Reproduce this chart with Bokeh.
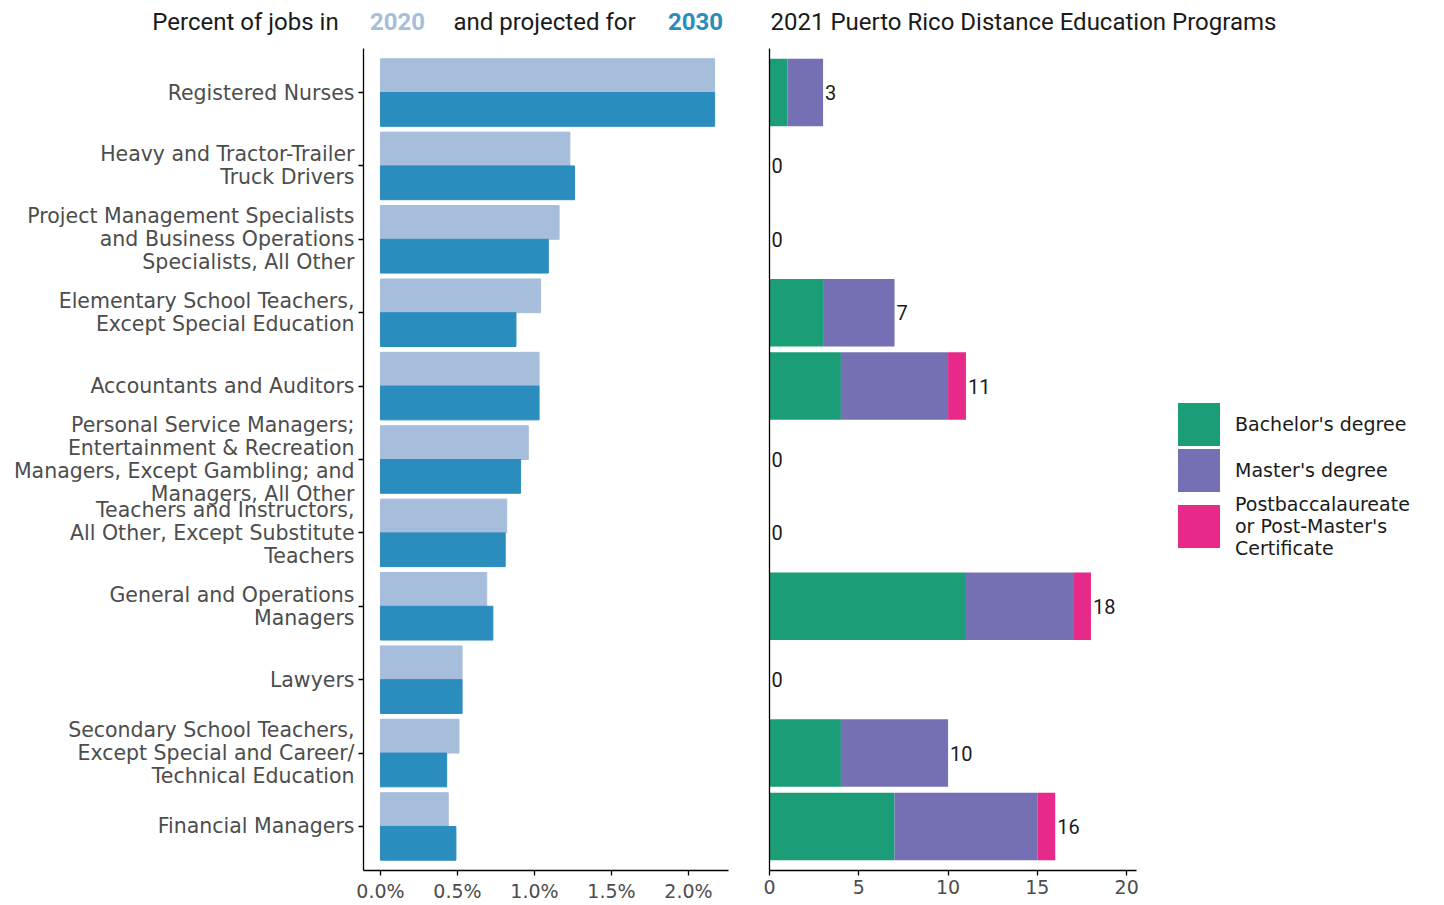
from bokeh.plotting import figure
from bokeh.models import (Range1d, FixedTicker, PrintfTickFormatter, Label, Legend,
                          LegendItem, ColumnDataSource)
from bokeh.layouts import row, column
from bokeh.embed import file_html
from bokeh.resources import INLINE
from bokeh.core.properties import value
from bokeh.transform import dodge

occupations = [
    "Registered Nurses",
    "Heavy and Tractor-Trailer\nTruck Drivers",
    "Project Management Specialists\nand Business Operations\nSpecialists, All Other",
    "Elementary School Teachers,\nExcept Special Education",
    "Accountants and Auditors",
    "Personal Service Managers;\nEntertainment & Recreation\nManagers, Except Gambling; and\nManagers, All Other",
    "Teachers and Instructors,\nAll Other, Except Substitute\nTeachers",
    "General and Operations\nManagers",
    "Lawyers",
    "Secondary School Teachers,\nExcept Special and Career/\nTechnical Education",
    "Financial Managers",
]
pct_2020 = [2.17, 1.23, 1.16, 1.04, 1.03, 0.96, 0.82, 0.69, 0.53, 0.51, 0.44]
pct_2030 = [2.17, 1.26, 1.09, 0.88, 1.03, 0.91, 0.81, 0.73, 0.53, 0.43, 0.49]
bachelor = [1, 0, 0, 3, 4, 0, 0, 11, 0, 4, 7]
master = [2, 0, 0, 4, 6, 0, 0, 6, 0, 6, 8]
postbacc = [0, 0, 0, 0, 1, 0, 0, 1, 0, 0, 1]
degree_labels = ["Bachelor's degree", "Master's degree",
                 "Postbaccalaureate\nor Post-Master's\nCertificate"]
pct_ticks = [0, 0.5, 1.0, 1.5, 2.0]
prog_ticks = [0, 5, 10, 15, 20]

C2020 = "#a6bddb"
C2030 = "#2b8cbe"
DEG_COLORS = ["#1b9e77", "#7570b3", "#e7298a"]
FONT = "DejaVu Sans"
TFONT = "Roboto"
GREY = "#4d4d4d"
DARK = "#1a1a1a"

n = len(occupations)
ypos = [n - i for i in range(n)]
totals = [b + m + p for b, m, p in zip(bachelor, master, postbacc)]

src = ColumnDataSource(dict(
    y=ypos, occ=occupations, p2020=pct_2020, p2030=pct_2030,
    bachelor=bachelor, master=master, postbacc=postbacc,
    total=totals, total_str=[str(t) for t in totals],
))

H = 856
common = dict(height=H, output_backend="svg", toolbar_location=None,
              min_border_top=0, min_border_bottom=31,
              y_range=Range1d(0.4, n + 0.6))

def blank(p):
    p.axis.visible = False
    p.xgrid.visible = False
    p.ygrid.visible = False
    p.outline_line_color = None

def style(p):
    p.xgrid.visible = False
    p.ygrid.visible = False
    p.outline_line_color = None
    for ax in (p.xaxis[0], p.yaxis[0]):
        ax.axis_line_color = "black"
        ax.axis_line_width = 1.3
        ax.major_tick_line_color = "black"
        ax.major_tick_line_width = 1.3
        ax.major_tick_in = 0
        ax.major_tick_out = 5
        ax.minor_tick_line_color = None
        ax.major_label_text_color = GREY
        ax.major_label_text_font = FONT
        ax.major_label_text_font_size = "19px"
        ax.major_label_standoff = 4

# ---------- title strip ----------
TW = 1440
p0 = figure(width=TW, height=48, x_range=Range1d(0, TW), y_range=Range1d(0, 48),
            output_backend="svg", toolbar_location=None,
            min_border_left=0, min_border_right=0, min_border_top=0, min_border_bottom=0)
blank(p0)
tkw = dict(y=27, text_font=TFONT, text_font_size="24px", text_baseline="middle")
p0.add_layout(Label(x=245, text="Percent of jobs in", text_align="center",
                    text_color=DARK, **tkw))
p0.add_layout(Label(x=397, text="2020", text_align="center", text_color=C2020,
                    text_font_style="bold", **tkw))
p0.add_layout(Label(x=544, text="and projected for", text_align="center",
                    text_color=DARK, **tkw))
p0.add_layout(Label(x=695, text="2030", text_align="center", text_color=C2030,
                    text_font_style="bold", **tkw))
p0.add_layout(Label(x=770, text="2021 Puerto Rico Distance Education Programs",
                    text_align="left", text_color=DARK, **tkw))

# ---------- left panel ----------
p1 = figure(width=748, x_range=Range1d(-0.11, 2.26),
            min_border_left=363, min_border_right=20, **common)
p1.hbar(y=dodge("y", 0.23), left=0, right="p2020", height=0.46,
        fill_color=C2020, line_color=C2020, source=src)
p1.hbar(y=dodge("y", -0.23), left=0, right="p2030", height=0.46,
        fill_color=C2030, line_color=C2030, source=src)
style(p1)
p1.xaxis.ticker = FixedTicker(ticks=pct_ticks)
p1.xaxis.formatter = PrintfTickFormatter(format="%.1f%%")
p1.yaxis.ticker = FixedTicker(ticks=ypos)
p1.yaxis.major_label_overrides = {y: o for y, o in zip(ypos, occupations)}
p1.yaxis.major_label_text_line_height = 0.96
p1.yaxis.major_label_text_font_size = "20.5px"

# ---------- right panel ----------
p2 = figure(width=412, x_range=Range1d(0, 20.55),
            min_border_left=21, min_border_right=24, **common)
rs = p2.hbar_stack(["bachelor", "master", "postbacc"], y="y", height=0.92,
                   fill_color=DEG_COLORS, line_color=None, source=src)
p2.text(x="total", y="y", text="total_str", x_offset=2, text_baseline="middle",
        text_align="left", text_font=value(TFONT), text_font_size="20px",
        text_color=DARK, source=src)
style(p2)
p2.xaxis.ticker = FixedTicker(ticks=prog_ticks)
p2.yaxis.ticker = FixedTicker(ticks=[])
p2.yaxis.major_tick_out = 0

# ---------- legend panel ----------
p3 = figure(width=280, x_range=Range1d(0, 1), min_border_left=0, min_border_right=0,
            **common)
blank(p3)
# hidden placeholder renderers: they only supply the legend swatch styles
leg_rs = [p3.hbar(y=[1], left=[0], right=[0], height=0, fill_color=c,
                  line_color=c, line_width=6, line_join="miter", visible=False)
          for c in DEG_COLORS]
legend = Legend(items=[LegendItem(label=l, renderers=[r]) for l, r in zip(degree_labels, leg_rs)],
                location=(16, 311), glyph_width=45, glyph_height=46, spacing=0,
                padding=0, margin=0, label_standoff=14, border_line_color=None,
                background_fill_alpha=0, label_text_font=FONT,
                label_text_font_size="19px", label_text_color=DARK,
                label_text_line_height=0.97, click_policy="none")
p3.add_layout(legend, "center")

layout = column(p0, row(p1, p2, p3))
open("out.html", "w").write(file_html(layout, INLINE))
